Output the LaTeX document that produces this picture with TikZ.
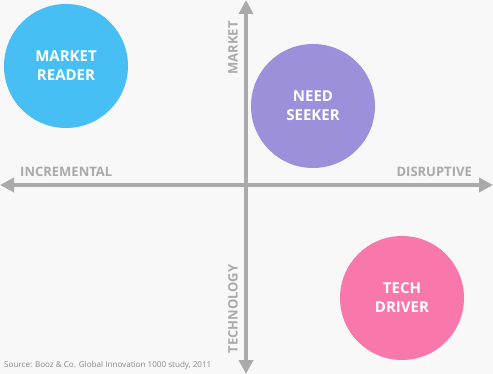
\documentclass[tikz,border=0pt]{standalone}
\usepackage{fontspec}
\setmainfont{Open Sans}
\usetikzlibrary{arrows.meta}
\definecolor{bg}{HTML}{F8F8F8}
\definecolor{axisgray}{HTML}{AAAAAA}
\definecolor{srcgray}{HTML}{8A8A8A}
\definecolor{readerblue}{HTML}{47BFF4}
\definecolor{seekerviolet}{HTML}{9C90DA}
\definecolor{driverpink}{HTML}{F878AB}
\tikzset{
	quadrant/.style={circle,minimum size=124pt,inner sep=0pt,text=white,font=\bfseries\fontsize{15}{19}\selectfont,align=center},
	axislabel/.style={text=axisgray,font=\bfseries\fontsize{13}{15}\selectfont,inner sep=0pt},
	axisline/.style={draw=axisgray,line width=4pt,-{Triangle[length=14pt,width=14pt]}}
}
\begin{document}
\begin{tikzpicture}[x=1pt,y=-1pt]
		\fill[bg] (0,0) rectangle (493,374);
		\useasboundingbox (0,0) rectangle (493,374);
		
		\coordinate (o) at (246,185);
		\coordinate (top) at (246,0);
		\coordinate (bottom) at (246,374);
		\coordinate (left) at (0,185);
		\coordinate (right) at (493,185);
		
		\draw[axisline] (o)--(top);
		\draw[axisline] (o)--(bottom);
		\draw[axisline] (o)--(left);
		\draw[axisline] (o)--(right);
		
		\node (reader) at (66,66) [quadrant,fill=readerblue] {MARKET\\READER};
		\node (seeker) at (313,106) [quadrant,fill=seekerviolet] {NEED\\SEEKER};
		\node (driver) at (402,298) [quadrant,fill=driverpink] {TECH\\DRIVER};
		
		\node (incr) at (20,172) [axislabel,anchor=west] {INCREMENTAL};
		\node (disr) at (472,172) [axislabel,anchor=east] {DISRUPTIVE};
		\node (mkt) at (233,48) [axislabel,rotate=90] {MARKET};
		\node (tech) at (233,309) [axislabel,rotate=90] {TECHNOLOGY};
		
		\node (src) at (4,365) [anchor=west,inner sep=0pt,text=srcgray,font=\fontsize{8.1}{10}\selectfont] {Source: Booz \& Co. Global Innovation 1000 study, 2011};
	\end{tikzpicture}
\end{document}
